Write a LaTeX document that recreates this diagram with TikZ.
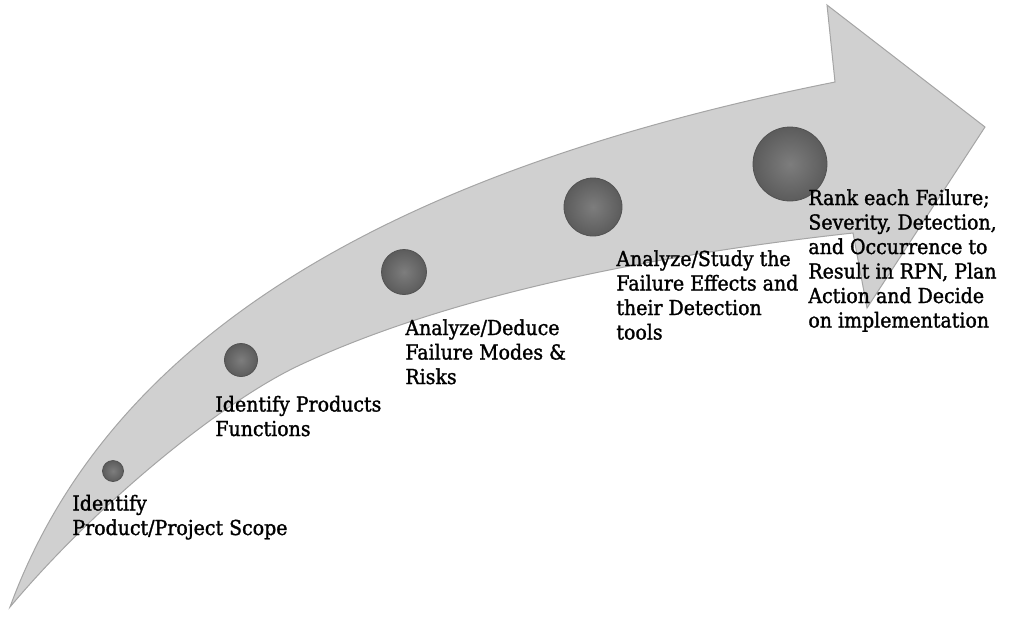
\documentclass[tikz,border=0pt]{standalone}
\usepackage{fontspec}
\newfontfamily\lblfont[FakeStretch=0.92,FakeBold=1.4]{DejaVu Serif}
\definecolor{arrowfill}{RGB}{208,208,208}
\definecolor{arrowline}{RGB}{165,165,165}
\definecolor{ballin}{RGB}{125,125,125}
\definecolor{ballout}{RGB}{92,92,92}
\definecolor{balledge}{RGB}{82,82,82}
\tikzset{
  ballnode/.style={circle, inner sep=0pt, shading=radial, inner color=ballin, outer color=ballout, draw=balledge, line width=0.4pt},
  label/.style={anchor=base west, inner sep=0pt, align=left, text=black, font={\lblfont\fontsize{10.3}{12.25}\selectfont}}
}
\begin{document}
\begin{tikzpicture}[x=0.5pt,y=-0.5pt]
\useasboundingbox (0,0) rectangle (1011,617);
% curved arrow
\coordinate (tail) at (10,607);
\coordinate (notchtop) at (835,82);
\coordinate (headtop) at (827,5);
\coordinate (tip) at (985,127);
\coordinate (headbot) at (867,308);
\coordinate (notchbot) at (853,233);
\coordinate (midlow) at (300,365);
\filldraw[fill=arrowfill, draw=arrowline, line width=0.5pt, line join=miter]
  (tail) .. controls (115,320) and (420,165) .. (notchtop)
  -- (headtop) -- (tip) -- (headbot) -- (notchbot)
  .. controls (653,255) and (450,295) .. (midlow)
  .. controls (225,400) and (100,500) .. (tail)
  -- cycle;
% balls
\node[ballnode, minimum size=10.5pt] (b1) at (113,471) {};
\node[ballnode, minimum size=16.5pt] (b2) at (241,360) {};
\node[ballnode, minimum size=22.5pt] (b3) at (404,272) {};
\node[ballnode, minimum size=29pt] (b4) at (593,207) {};
\node[ballnode, minimum size=37pt] (b5) at (790,164) {};
% labels (anchored at baseline of last line)
\node[label] (t1) at (72,535) {Identify\\Product/Project Scope};
\node[label] (t2) at (215,436) {Identify Products\\Functions};
\node[label] (t3) at (405,384) {Analyze/Deduce\\Failure Modes \&\\Risks};
\node[label] (t4) at (616,339.5) {Analyze/Study the\\Failure Effects and\\their Detection\\tools};
\node[label] (t5) at (808,327.5) {Rank each Failure;\\Severity, Detection,\\and Occurrence to\\Result in RPN, Plan\\Action and Decide\\on implementation};
\end{tikzpicture}
\end{document}
